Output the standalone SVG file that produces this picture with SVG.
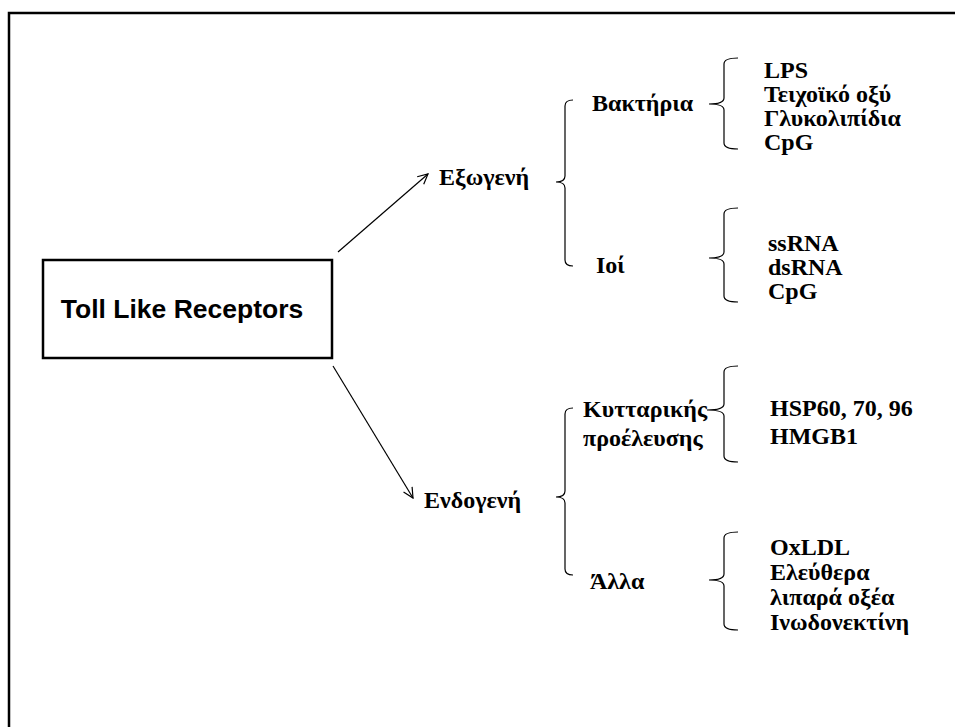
<svg xmlns="http://www.w3.org/2000/svg" width="955" height="727" viewBox="0 0 955 727">
<defs>
<style>
.t{font-family:"Liberation Serif","Times New Roman",serif;font-weight:bold;font-size:24px;fill:#000}
.br{fill:none;stroke:#000;stroke-width:1.2}
.ln{stroke:#000;stroke-width:1.2;fill:none}
</style>
<marker id="ah" viewBox="0 0 12 12" refX="11" refY="6" markerWidth="12" markerHeight="12" markerUnits="userSpaceOnUse" orient="auto">
<path d="M1,1 L11,6 L1,11" fill="none" stroke="#000" stroke-width="1.2"/>
</marker>
</defs>
<rect width="955" height="727" fill="#fff"/>
<path d="M9,727 L9,13 L955,13" fill="none" stroke="#000" stroke-width="2.5"/>
<g id="toll">
<rect x="43" y="260" width="289" height="98" fill="#fff" stroke="#000" stroke-width="2.5"/>
<text x="182" y="318" text-anchor="middle" style="font-family:'Liberation Sans',Arial,sans-serif;font-weight:bold;font-size:26.5px">Toll Like Receptors</text>
</g>
<g id="connectors">
<line class="ln" x1="338" y1="252" x2="428" y2="174" marker-end="url(#ah)"/>
<line class="ln" x1="333" y1="366" x2="413" y2="498" marker-end="url(#ah)"/>
<path class="br" d="M573,100 Q565,100 565,106 L565,176 Q565,182 556,182 Q565,182 565,188 L565,260 Q565,266 573,266"/>
<path class="br" d="M738,58 Q724,58 724,64 L724,98 Q724,104 709,104 Q724,104 724,110 L724,143 Q724,149 738,149"/>
<path class="br" d="M738,208 Q724,208 724,214 L724,252 Q724,258 709,258 Q724,258 724,264 L724,296 Q724,302 738,302"/>
<path class="br" d="M573,408 Q565,408 565,414 L565,491 Q565,497 556,497 Q565,497 565,503 L565,569 Q565,575 573,575"/>
<path class="br" d="M738,366 Q724,366 724,372 L724,404 Q724,410 707,410 Q724,410 724,416 L724,456 Q724,462 738,462"/>
<path class="br" d="M738,532 Q724,532 724,538 L724,574 Q724,580 709,580 Q724,580 724,586 L724,624 Q724,630 738,630"/>
</g>
<g id="exogeni"><text class="t" x="439" y="185">Εξωγενή</text></g>
<g id="endogeni"><text class="t" x="424" y="508">Ενδογενή</text></g>
<g id="bakteria"><text class="t" x="592" y="111">Βακτήρια</text></g>
<g id="ioi"><text class="t" x="596" y="273">Ιοί</text></g>
<g id="kyttarikis"><text class="t" x="583" y="417">Κυτταρικής</text><text class="t" x="583" y="446">προέλευσης</text></g>
<g id="alla"><text class="t" x="590" y="589">Άλλα</text></g>
<g id="bact-items"><text class="t" x="764" y="78">LPS</text><text class="t" x="764" y="102">Τειχοϊκό οξύ</text><text class="t" x="764" y="126">Γλυκολιπίδια</text><text class="t" x="764" y="150">CpG</text></g>
<g id="virus-items"><text class="t" x="768" y="251">ssRNA</text><text class="t" x="768" y="275">dsRNA</text><text class="t" x="768" y="299">CpG</text></g>
<g id="cell-items"><text class="t" x="770" y="416">HSP60, 70, 96</text><text class="t" x="770" y="444">HMGB1</text></g>
<g id="other-items"><text class="t" x="770" y="555">OxLDL</text><text class="t" x="770" y="580">Ελεύθερα</text><text class="t" x="770" y="605">λιπαρά οξέα</text><text class="t" x="770" y="630">Ινωδονεκτίνη</text></g>
</svg>
